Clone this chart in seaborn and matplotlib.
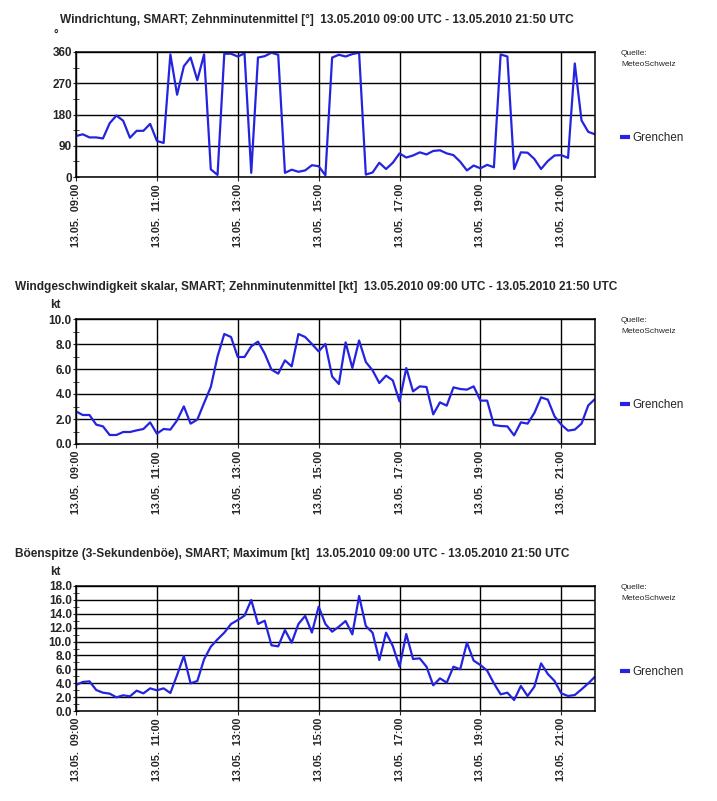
import pandas as pd
import seaborn as sns
import matplotlib.pyplot as plt
import matplotlib.dates as mdates
from matplotlib.ticker import MultipleLocator, FormatStrFormatter

start = '2010-05-13 09:00'
station = 'Grenchen'
source = 'Quelle:\nMeteoSchweiz'

titles = [
    'Windrichtung, SMART; Zehnminutenmittel [°]  13.05.2010 09:00 UTC - 13.05.2010 21:50 UTC',
    'Windgeschwindigkeit skalar, SMART; Zehnminutenmittel [kt]  13.05.2010 09:00 UTC - 13.05.2010 21:50 UTC',
    'Böenspitze (3-Sekundenböe), SMART; Maximum [kt]  13.05.2010 09:00 UTC - 13.05.2010 21:50 UTC',
]
units = ['°', 'kt', 'kt']

wind_dir = [118, 123, 114, 114, 111, 155, 177, 162, 113, 133, 133, 153, 104, 98, 353, 237,
            319, 344, 279, 353, 22, 6, 355, 355, 347, 356, 12, 344, 348, 358, 352, 12,
            21, 15, 19, 34, 31, 5, 344, 352, 347, 354, 358, 7, 13, 41, 23, 41,
            68, 56, 62, 71, 65, 75, 77, 68, 63, 44, 19, 33, 25, 35, 28, 353,
            347, 23, 71, 70, 52, 23, 46, 62, 63, 55, 327, 163, 130, 123]

wind_speed = [2.61, 2.32, 2.32, 1.55, 1.41, 0.72, 0.72, 0.96, 0.96, 1.09, 1.2, 1.73, 0.83, 1.2,
              1.15, 1.89, 3.01, 1.63, 1.95, 3.28, 4.56, 7.01, 8.8, 8.56, 6.96, 6.96, 7.81, 8.19,
              7.23, 5.95, 5.63, 6.69, 6.21, 8.8, 8.56, 8.0, 7.41, 8.0, 5.4, 4.8, 8.13, 6.08,
              8.28, 6.56, 5.89, 4.88, 5.47, 5.09, 3.41, 6.08, 4.21, 4.61, 4.56, 2.37, 3.33, 3.07,
              4.53, 4.4, 4.35, 4.61, 3.47, 3.47, 1.52, 1.44, 1.41, 0.69, 1.73, 1.63, 2.48, 3.73,
              3.55, 2.21, 1.55, 1.07, 1.15, 1.63, 3.09, 3.6]

gust = [3.74, 4.18, 4.27, 3.02, 2.64, 2.5, 1.97, 2.26, 2.11, 2.93, 2.54, 3.26, 2.98, 3.26,
        2.59, 5.18, 7.92, 3.98, 4.32, 7.44, 9.26, 10.32, 11.28, 12.53, 13.1, 13.73, 15.98, 12.53,
        13.0, 9.46, 9.31, 11.66, 9.84, 12.53, 13.7, 11.3, 15.02, 12.53, 11.42, 12.14, 12.96, 11.04,
        16.56, 12.24, 11.28, 7.34, 11.28, 9.36, 6.38, 11.09, 7.49, 7.58, 6.38, 3.7, 4.7, 4.08,
        6.38, 6.0, 9.84, 7.25, 6.62, 5.81, 3.98, 2.4, 2.64, 1.58, 3.6, 2.16, 3.5, 6.86,
        5.33, 4.32, 2.54, 2.16, 2.3, 3.12, 3.98, 4.94]

times = pd.date_range(start, periods=len(wind_dir), freq='10min')
df = pd.DataFrame({'time': times, 'dir': wind_dir, 'speed': wind_speed, 'gust': gust})

sns.set_style('white')
plt.rcParams['font.family'] = ['Liberation Sans', 'DejaVu Sans']

fig = plt.figure(figsize=(7.17, 8.01), dpi=100)
fig.set_facecolor('w')

# axes boxes in pixels: top, bottom
boxes = [(52, 177), (319, 444), (586, 711)]
title_pos = [(60, 20), (15, 287), (15, 554)]
unit_pos = [(53, 35), (50, 305), (50, 572)]
cols = ['dir', 'speed', 'gust']
ylims = [(0, 360), (0, 10), (0, 18)]
major = [90, 2, 2]
minor = [45, 1, 1]
fmts = ['%d', '%.1f', '%.1f']

W, H = 717, 801
for i in range(3):
    top, bot = boxes[i]
    ax = fig.add_axes([76 / W, 1 - bot / H, 519 / W, (bot - top) / H])
    sns.lineplot(data=df, x='time', y=cols[i], ax=ax, color='#2424e0', linewidth=1.6, label=station)
    ax.set_xlim(times[0], times[-1])
    ax.set_ylim(*ylims[i])
    ax.yaxis.set_major_locator(MultipleLocator(major[i]))
    ax.yaxis.set_minor_locator(MultipleLocator(minor[i]))
    ax.yaxis.set_major_formatter(FormatStrFormatter(fmts[i]))
    ax.xaxis.set_major_locator(mdates.HourLocator(byhour=[9, 11, 13, 15, 17, 19, 21]))
    ax.xaxis.set_major_formatter(mdates.DateFormatter('%d.%m.  %H:%M'))
    ax.grid(True, which='major', color='black', linewidth=1.0)
    for s in ax.spines.values():
        s.set_color('black')
        s.set_linewidth(1.1)
    ax.tick_params(axis='y', which='both', direction='inout', left=True, length=4,
                   labelsize=8.5, pad=1)
    ax.tick_params(axis='x', which='major', direction='out', bottom=True, length=3, labelsize=7.8,
                   labelrotation=90, pad=2)
    for lab in ax.get_yticklabels() + ax.get_xticklabels():
        lab.set_fontweight('bold')
    ax.set_xlabel('')
    ax.set_ylabel('')
    leg = ax.legend(loc='center left', bbox_to_anchor=(1.039, 0.31), frameon=False, fontsize=8.4,
                    handlelength=0.86, handletextpad=0.25, borderaxespad=0)
    for h in leg.get_lines():
        h.set_linewidth(3)
        h.set_solid_capstyle('butt')
    fig.text(title_pos[i][0] / W, 1 - title_pos[i][1] / H, titles[i], fontsize=8.6,
             fontweight='bold', va='center', ha='left')
    fig.text(unit_pos[i][0] / W, 1 - unit_pos[i][1] / H, units[i], fontsize=8.5,
             fontweight='bold', va='center', ha='left')
    fig.text(621 / W, 1 - (top - 2) / H, source, fontsize=6, va='top', ha='left', linespacing=1.7)

fig.savefig('out.png', dpi=100, facecolor='w')
